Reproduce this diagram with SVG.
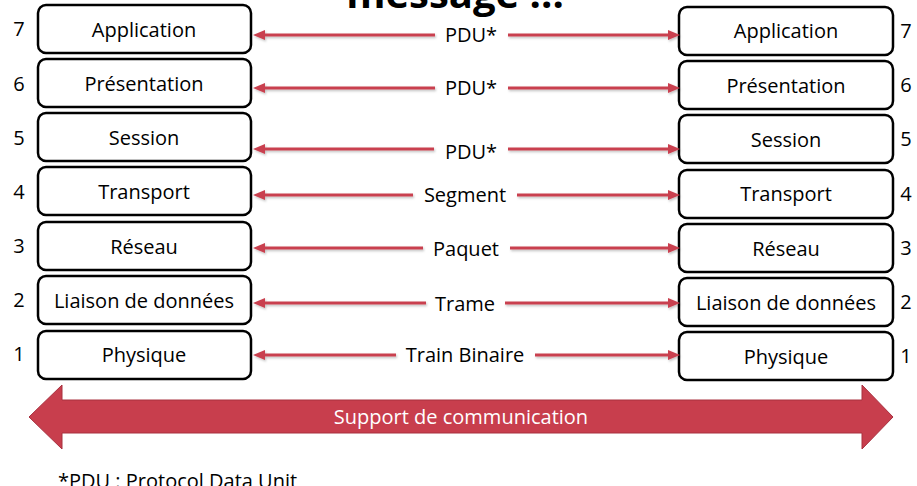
<svg xmlns="http://www.w3.org/2000/svg" width="917" height="486" viewBox="0 0 917 486">
<style>
.box{fill:#fff;stroke:#000;stroke-width:2.5}
.t{font-family:"Open Sans","Liberation Sans",sans-serif;font-size:20px;fill:#000;text-anchor:middle}
.n{font-family:"Open Sans","Liberation Sans",sans-serif;font-size:20px;fill:#000;text-anchor:middle}
.c{stroke:#C9404F;stroke-width:3.2;fill:none;marker-end:url(#ah)}
.lbl{font-family:"Open Sans","Liberation Sans",sans-serif;font-size:20px;fill:#000;text-anchor:middle}
</style>
<defs>
<marker id="ah" markerUnits="userSpaceOnUse" markerWidth="12" markerHeight="10" refX="2" refY="5" orient="auto">
<path d="M0,0 L12,5 L0,10 Z" fill="#C9404F"/>
</marker>
<filter id="sh" filterUnits="userSpaceOnUse" x="0" y="0" width="917" height="486">
<feDropShadow dx="1" dy="1.5" stdDeviation="1" flood-color="#000" flood-opacity="0.25"/>
</filter>
</defs>
<rect width="917" height="486" fill="#fff"/>
<text x="455" y="8" font-family="'Open Sans','Liberation Sans',sans-serif" font-weight="bold" font-size="40" text-anchor="middle" fill="#000">message ...</text>

<g id="left-7"><rect class="box" x="38" y="5" width="213" height="48" rx="8"/><text class="t" x="144" y="37">Application</text><text class="n" x="19" y="36">7</text></g>
<g id="left-6"><rect class="box" x="38" y="59" width="213" height="48" rx="8"/><text class="t" x="144" y="91">Présentation</text><text class="n" x="19" y="91">6</text></g>
<g id="left-5"><rect class="box" x="38" y="113" width="213" height="48" rx="8"/><text class="t" x="144" y="145">Session</text><text class="n" x="19" y="145">5</text></g>
<g id="left-4"><rect class="box" x="38" y="167" width="213" height="48" rx="8"/><text class="t" x="144" y="199">Transport</text><text class="n" x="19" y="199">4</text></g>
<g id="left-3"><rect class="box" x="38" y="222" width="213" height="48" rx="8"/><text class="t" x="144" y="254">Réseau</text><text class="n" x="19" y="253">3</text></g>
<g id="left-2"><rect class="box" x="38" y="276" width="213" height="48" rx="8"/><text class="t" x="144" y="308">Liaison de données</text><text class="n" x="19" y="307">2</text></g>
<g id="left-1"><rect class="box" x="38" y="331" width="213" height="48" rx="8"/><text class="t" x="144" y="362">Physique</text><text class="n" x="19" y="361">1</text></g>

<g id="right-7"><rect class="box" x="679" y="7" width="214" height="48" rx="8"/><text class="t" x="786" y="38">Application</text><text class="n" x="906" y="38">7</text></g>
<g id="right-6"><rect class="box" x="679" y="61" width="214" height="48" rx="8"/><text class="t" x="786" y="93">Présentation</text><text class="n" x="906" y="92">6</text></g>
<g id="right-5"><rect class="box" x="679" y="115" width="214" height="48" rx="8"/><text class="t" x="786" y="147">Session</text><text class="n" x="906" y="146">5</text></g>
<g id="right-4"><rect class="box" x="679" y="170" width="214" height="48" rx="8"/><text class="t" x="786" y="201">Transport</text><text class="n" x="906" y="201">4</text></g>
<g id="right-3"><rect class="box" x="679" y="224" width="214" height="48" rx="8"/><text class="t" x="786" y="256">Réseau</text><text class="n" x="906" y="255">3</text></g>
<g id="right-2"><rect class="box" x="679" y="278" width="214" height="48" rx="8"/><text class="t" x="786" y="310">Liaison de données</text><text class="n" x="906" y="309">2</text></g>
<g id="right-1"><rect class="box" x="679" y="332" width="214" height="48" rx="8"/><text class="t" x="786" y="364">Physique</text><text class="n" x="906" y="363">1</text></g>

<g id="connectors" filter="url(#sh)">
<line class="c" x1="435" y1="35" x2="263" y2="35"/><line class="c" x1="508" y1="35" x2="670" y2="35"/>
<line class="c" x1="435" y1="88" x2="263" y2="88"/><line class="c" x1="508" y1="88" x2="670" y2="88"/>
<line class="c" x1="434" y1="149" x2="263" y2="149"/><line class="c" x1="508" y1="149" x2="670" y2="149"/>
<line class="c" x1="413" y1="195" x2="263" y2="195"/><line class="c" x1="517" y1="195" x2="670" y2="195"/>
<line class="c" x1="423" y1="248" x2="263" y2="248"/><line class="c" x1="510" y1="248" x2="670" y2="248"/>
<line class="c" x1="426" y1="303" x2="263" y2="303"/><line class="c" x1="505" y1="303" x2="670" y2="303"/>
<line class="c" x1="396" y1="355" x2="263" y2="355"/><line class="c" x1="535" y1="355" x2="670" y2="355"/>
</g>
<g id="connector-labels">
<text class="lbl" x="471" y="42">PDU*</text>
<text class="lbl" x="471" y="95">PDU*</text>
<text class="lbl" x="471" y="159">PDU*</text>
<text class="lbl" x="465" y="202">Segment</text>
<text class="lbl" x="466" y="256">Paquet</text>
<text class="lbl" x="465" y="311">Trame</text>
<text class="lbl" x="465" y="362">Train Binaire</text>
</g>

<g id="support">
<path d="M29,417 L62,385 L62,400 L862,400 L862,385 L893,417 L862,449 L862,433 L62,433 L62,449 Z" fill="#C83E4D" stroke="#A8303F" stroke-width="1"/>
<text x="461" y="424" font-family="'Open Sans','Liberation Sans',sans-serif" font-size="20" fill="#fff" text-anchor="middle">Support de communication</text>
</g>

<text x="58" y="488" font-family="'Open Sans','Liberation Sans',sans-serif" font-size="20" fill="#000">*PDU : Protocol Data Unit</text>
</svg>
